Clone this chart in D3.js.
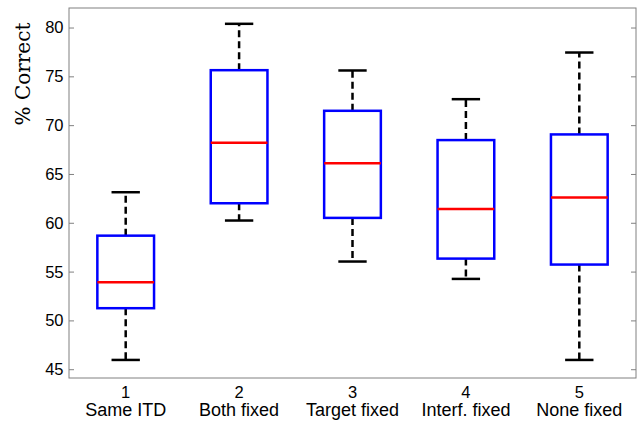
<!DOCTYPE html>
<html>
<head>
<meta charset="utf-8">
<script src="https://cdn.jsdelivr.net/npm/d3@7"></script>
<style>
	body { margin: 0; background: #fff; }
	svg { display: block; }
</style>
</head>
<body>
<div id="chart"></div>
<script>
// box plot values
const groups = [1, 2, 3, 4, 5];
const groupNames = ['Same ITD', 'Both fixed', 'Target fixed', 'Interf. fixed', 'None fixed'];
const whiskerLow = [45.95, 60.23, 56.03, 54.25, 45.95];
const q1 = [51.25, 62.0, 60.5, 56.33, 55.72];
const medians = [53.9, 68.2, 66.1, 61.4, 62.58];
const q3 = [58.68, 75.63, 71.47, 68.47, 69.05];
const whiskerHigh = [63.13, 80.38, 75.6, 72.66, 77.44];
const yTicks = [45, 50, 55, 60, 65, 70, 75, 80];

const width = 637;
const height = 423;
const margin = { top: 8, right: 1, bottom: 45, left: 69 };

const svg = d3
	.select('#chart')
	.append('svg')
	.attr('width', width)
	.attr('height', height);

const x = d3
	.scaleLinear()
	.domain([0.5, 5.5])
	.range([margin.left, width - margin.right]);

const y = d3
	.scaleLinear()
	.domain([44.1, 82])
	.range([height - margin.bottom, margin.top]);

const data = groups.map((g, i) => ({
	g: g,
	name: groupNames[i],
	lo: whiskerLow[i],
	q1: q1[i],
	med: medians[i],
	q3: q3[i],
	hi: whiskerHigh[i],
}));

const axisColor = '#808080';
const labelFont = '"Liberation Sans", Arial, sans-serif';

// frame
svg.append('rect')
	.attr('x', x(0.5))
	.attr('y', y(82))
	.attr('width', x(5.5) - x(0.5))
	.attr('height', y(44.1) - y(82))
	.attr('fill', 'none')
	.attr('stroke', axisColor)
	.attr('stroke-width', 1);

// y ticks, inward on both sides
const yAxisL = d3.axisRight(y).tickValues(yTicks).tickSize(5).tickFormat('');
const yAxisR = d3.axisLeft(y).tickValues(yTicks).tickSize(5).tickFormat('');

svg.append('g')
	.attr('transform', `translate(${x(0.5)},0)`)
	.call(yAxisL)
	.call((g) => g.select('.domain').remove())
	.call((g) => g.selectAll('line').attr('stroke', axisColor));

svg.append('g')
	.attr('transform', `translate(${x(5.5)},0)`)
	.call(yAxisR)
	.call((g) => g.select('.domain').remove())
	.call((g) => g.selectAll('line').attr('stroke', axisColor));

svg.selectAll('.ylab')
	.data(yTicks)
	.join('text')
	.attr('class', 'ylab')
	.attr('x', x(0.5) - 5.5)
	.attr('y', (d) => y(d))
	.attr('dy', '0.36em')
	.attr('text-anchor', 'end')
	.attr('font-family', labelFont)
	.attr('font-size', 16.5)
	.text((d) => d);

// x labels: number then name
svg.selectAll('.xnum')
	.data(data)
	.join('text')
	.attr('class', 'xnum')
	.attr('x', (d) => x(d.g))
	.attr('y', 398.3)
	.attr('text-anchor', 'middle')
	.attr('font-family', labelFont)
	.attr('font-size', 16.5)
	.text((d) => d.g);

svg.selectAll('.xname')
	.data(data)
	.join('text')
	.attr('class', 'xname')
	.attr('x', (d) => x(d.g))
	.attr('y', 416)
	.attr('text-anchor', 'middle')
	.attr('font-family', labelFont)
	.attr('font-size', 18)
	.text((d) => d.name);

// y title
svg.append('text')
	.attr('transform', 'translate(30,74) rotate(-90)')
	.attr('text-anchor', 'middle')
	.attr('font-family', '"DejaVu Serif", "Liberation Serif", serif')
	.attr('font-size', 20)
	.text('% Correct');

const boxHalf = 0.25;
const capHalf = 0.125;

const boxes = svg.selectAll('.box').data(data).join('g').attr('class', 'box');

// dashed whiskers
boxes.append('line')
	.attr('x1', (d) => x(d.g))
	.attr('x2', (d) => x(d.g))
	.attr('y1', (d) => y(d.q3))
	.attr('y2', (d) => y(d.hi))
	.attr('stroke', '#000')
	.attr('stroke-width', 2.5)
	.attr('stroke-dasharray', '7,4');

boxes.append('line')
	.attr('x1', (d) => x(d.g))
	.attr('x2', (d) => x(d.g))
	.attr('y1', (d) => y(d.q1))
	.attr('y2', (d) => y(d.lo))
	.attr('stroke', '#000')
	.attr('stroke-width', 2.5)
	.attr('stroke-dasharray', '7,4');

// caps
boxes.append('line')
	.attr('x1', (d) => x(d.g - capHalf))
	.attr('x2', (d) => x(d.g + capHalf))
	.attr('y1', (d) => y(d.hi))
	.attr('y2', (d) => y(d.hi))
	.attr('stroke', '#000')
	.attr('stroke-width', 2.5);

boxes.append('line')
	.attr('x1', (d) => x(d.g - capHalf))
	.attr('x2', (d) => x(d.g + capHalf))
	.attr('y1', (d) => y(d.lo))
	.attr('y2', (d) => y(d.lo))
	.attr('stroke', '#000')
	.attr('stroke-width', 2.5);

// box
boxes.append('rect')
	.attr('x', (d) => x(d.g - boxHalf))
	.attr('y', (d) => y(d.q3))
	.attr('width', (d) => x(d.g + boxHalf) - x(d.g - boxHalf))
	.attr('height', (d) => y(d.q1) - y(d.q3))
	.attr('fill', 'none')
	.attr('stroke', '#0000ff')
	.attr('stroke-width', 2.5);

// median
boxes.append('line')
	.attr('x1', (d) => x(d.g - boxHalf))
	.attr('x2', (d) => x(d.g + boxHalf))
	.attr('y1', (d) => y(d.med))
	.attr('y2', (d) => y(d.med))
	.attr('stroke', '#ff0000')
	.attr('stroke-width', 2.5);
</script>
</body>
</html>
